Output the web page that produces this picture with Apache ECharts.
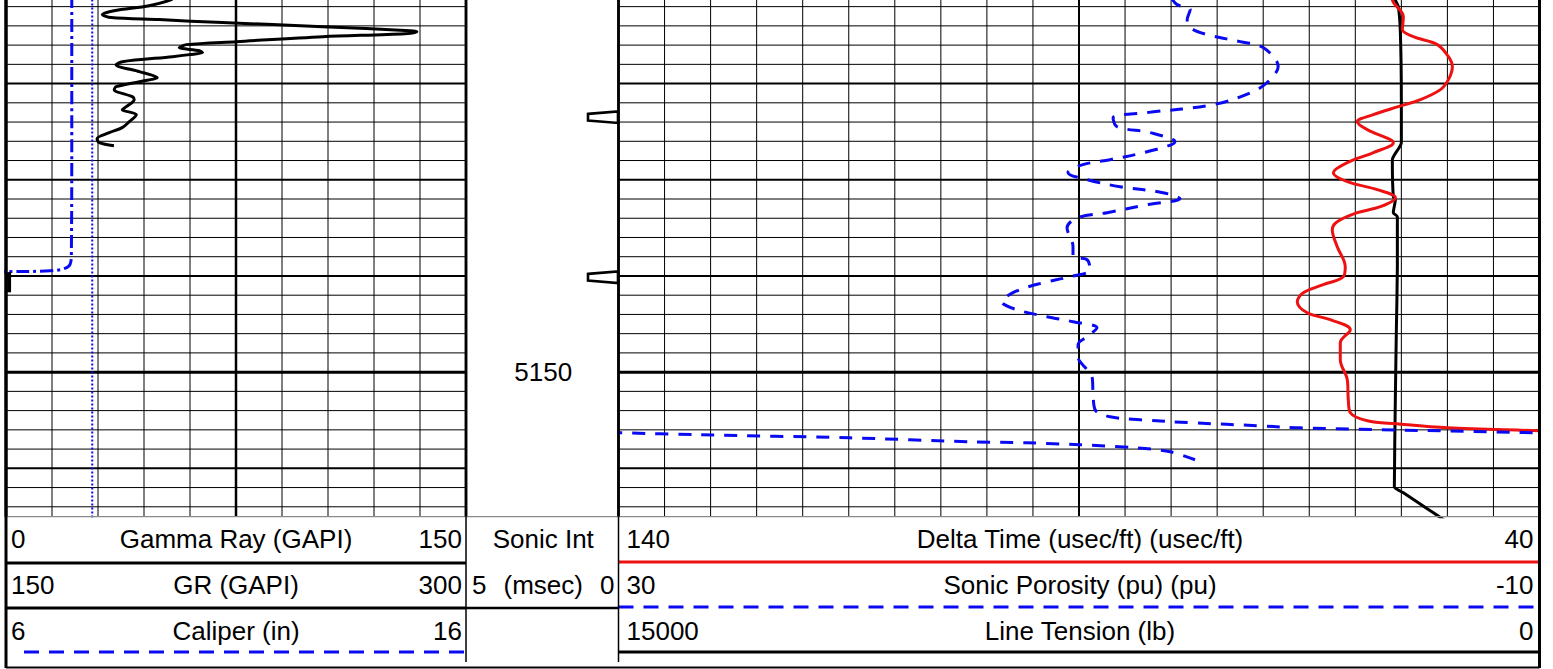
<!DOCTYPE html>
<html>
<head>
<meta charset="utf-8">
<script src="https://cdn.jsdelivr.net/npm/echarts@6/dist/echarts.min.js"></script>
<style>html,body{margin:0;padding:0;background:#fff;overflow:hidden}#c{width:1553px;height:669px}</style>
</head>
<body>
<div id="c"></div>
<script>
// ---------------- DATA ----------------
const DEPTH_TOP = 5111.31, DEPTH_BOTTOM = 5165.03;
const depthGridLines = [5112,5114,5116,5118,5120,5122,5124,5126,5128,5130,5132,5134,5136,5138,5140,5142,5144,5146,5148,5150,5152,5154,5156,5158,5160,5162,5164];
const majorDepthLines = [5120,5130,5140,5150,5160];
const heavyDepthLines = [5150];
const depthLabels = [5150];
const gammaGridValues = [0,15,30,45,60,75,90,105,120,135,150];
const deltaTimeGridValues = [140,135,130,125,120,115,110,105,100,95,90,85,80,75,70,65,60,55,50,45,40];

// [GAPI, depth]
const gammaRay = [[54.3,5110.96],[53.9,5111.27],[46.7,5111.90],[35.2,5112.42],[31.4,5112.83],[34.3,5113.14],[49.9,5113.35],[70.6,5113.66],[103.3,5114.08],[131.7,5114.50],[134.0,5114.60],[130.1,5114.81],[103.3,5115.12],[75.2,5115.64],[58.8,5115.95],[56.5,5116.26],[63.1,5116.58],[64.1,5116.78],[59.8,5116.99],[54.3,5117.20],[37.9,5117.72],[35.9,5118.03],[43.5,5118.76],[49.3,5119.38],[43.5,5119.80],[35.9,5120.32],[35.3,5120.63],[41.2,5121.36],[41.8,5121.67],[39.2,5122.40],[37.9,5122.71],[42.5,5123.23],[40.2,5123.96],[37.9,5124.58],[33.7,5125.10],[29.7,5125.73],[30.4,5126.14],[35.2,5126.46]];
// [GAPI 150-300, depth]
const grBackup = [[151,5139.6],[151,5141.7]];
// [in, depth]
const caliper = [[7.43,5110.8],[7.43,5125.0],[7.42,5138.0],[7.35,5139.04],[6.96,5139.46],[6.0,5139.56],[5.5,5139.6]];
const bitSize = [[7.875,5110.0],[7.875,5166.0]];
// sonic integration pips (depth)
const sonicIntPips = [5123.49,5140.13];
// [usec/ft, depth]
const deltaTime = [[56.0,5110.8],[55.98,5111.27],[54.78,5113.04],[54.89,5114.39],[53.70,5115.12],[51.09,5115.95],[49.89,5117.20],[49.46,5118.24],[49.89,5119.59],[50.76,5120.63],[52.93,5121.67],[55.33,5122.40],[58.04,5123.23],[59.78,5123.96],[58.70,5124.79],[56.20,5125.83],[55.87,5126.14],[58.04,5127.18],[60.87,5128.22],[62.39,5129.26],[60.87,5130.20],[57.61,5131.03],[55.65,5131.86],[57.28,5132.80],[59.78,5133.42],[61.96,5134.36],[62.50,5135.19],[61.96,5136.96],[61.09,5139.04],[61.30,5140.08],[63.48,5140.91],[65.65,5141.75],[66.30,5142.68],[65.22,5143.83],[62.72,5144.55],[60.54,5145.59],[61.63,5146.95],[61.63,5148.71],[60.87,5150.79],[60.76,5152.87],[60.54,5154.22],[58.70,5155.06],[55.54,5155.37],[50.0,5155.79],[40.0,5156.10],[37.5,5156.2]];
// [pu, depth]
const sonicPorosity = [[6.0,5111.06],[5.74,5111.79],[5.17,5112.31],[5.30,5113.35],[5.17,5114.18],[4.43,5114.91],[3.0,5115.64],[2.0,5116.26],[1.35,5118.24],[1.70,5119.59],[2.43,5120.84],[4.17,5122.19],[7.04,5123.02],[8.52,5123.54],[8.35,5124.48],[6.91,5125.10],[5.83,5126.04],[7.04,5127.08],[8.65,5127.91],[9.83,5128.43],[10.48,5129.26],[9.65,5129.99],[8.22,5130.72],[6.35,5131.34],[5.61,5131.97],[7.04,5132.59],[8.78,5133.42],[10.04,5133.94],[10.52,5134.98],[10.26,5136.96],[10.26,5138.00],[9.65,5138.31],[9.52,5139.35],[10.39,5140.08],[11.57,5140.71],[12.78,5141.64],[13.35,5142.68],[12.70,5143.51],[11.39,5144.24],[10.26,5144.76],[9.22,5145.39],[9.65,5146.32],[10.04,5147.15],[10.04,5148.40],[9.65,5149.75],[9.43,5150.48],[9.39,5152.15],[9.30,5153.91],[8.65,5154.64],[7.35,5154.95],[5.04,5155.27],[2.13,5155.58],[0.39,5155.79],[-10.0,5156.31],[-10.8,5156.35]];
// wrapped (backup) part of Sonic Porosity, displayed values
const sonicPorosityWrap = [[30.4,5156.28],[26.48,5156.51],[19.96,5156.83],[14.74,5157.24],[12.26,5157.35],[9.96,5157.55],[7.48,5157.87],[6.04,5158.28],[4.96,5159.11]];
// [lb, depth]
const lineTension = [[2348,5110.8],[2348,5111.27],[2299,5112.0],[2266,5114.70],[2250,5121.67],[2250,5126.14],[2397,5127.91],[2381,5131.76],[2348,5132.07],[2381,5133.42],[2315,5133.84],[2315,5139.04],[2332,5145.91],[2348,5152.87],[2364,5161.92],[2217,5162.55],[1728,5164.63],[1435,5165.87]];

// header texts
const leftHeader = [["0","Gamma Ray (GAPI)","150"],["150","GR (GAPI)","300"],["6","Caliper (in)","16"]];
const midHeader = ["Sonic Int", "5", "(msec)", "0"];
const rightHeader = [["140","Delta Time (usec/ft) (usec/ft)","40"],["30","Sonic Porosity (pu) (pu)","-10"],["15000","Line Tension (lb)","0"]];

// ---------------- LAYOUT ----------------
const L = 6, M1 = 466, M2 = 618.5, R = 1539.5, PT = 0, PB = 516.7, HB = 668;
const ROWS = [539, 585, 631];
const FONT = '26px "Liberation Sans", Arial, sans-serif';
const BLUE = '#0a0af2', RED = '#ee1111';

const chart = echarts.init(document.getElementById('c'), null, {renderer: 'svg', width: 1553, height: 669});

function hLineItem(params, api) {
  const cs = params.coordSys;
  const y = api.coord([api.value(0), api.value(1)])[1];
  return {type: 'line', shape: {x1: cs.x, y1: y, x2: cs.x + cs.width, y2: y},
          style: {stroke: '#000', lineWidth: api.value(2)}};
}
function vLineItem(params, api) {
  const cs = params.coordSys;
  const x = api.coord([api.value(0), api.value(1)])[0];
  return {type: 'line', shape: {x1: x, y1: cs.y, x2: x, y2: cs.y + cs.height},
          style: {stroke: '#000', lineWidth: api.value(2)}};
}
function pipItem(params, api) {
  const cs = params.coordSys;
  const y = api.coord([api.value(0), api.value(1)])[1];
  const r = cs.x + cs.width - 0.5;
  return {type: 'polygon', shape: {points: [[r - 30, y - 3.3], [r, y - 5.8], [r, y + 5.8], [r - 30, y + 3.3]]},
          style: {fill: '#fff', stroke: '#000', lineWidth: 2.6}};
}
function depthLabelItem(params, api) {
  const cs = params.coordSys;
  const y = api.coord([api.value(0), api.value(1)])[1];
  return {type: 'text', style: {text: String(api.value(1)), x: cs.x + cs.width / 2 + 1, y: y,
          font: FONT, fill: '#000', align: 'center', verticalAlign: 'middle', textAlign: 'center', textVerticalAlign: 'middle'}};
}

const hWidth = d => heavyDepthLines.includes(d) ? 3 : (majorDepthLines.includes(d) ? 2 : 1);
const gammaVWidth = v => v === 0 ? 3 : (v === 75 || v === 150 ? 2.5 : 1);
const dtVWidth = v => v === 40 ? 3 : (v === 140 ? 2.5 : (v === 90 ? 2 : 1));

function yAx(i) { return {gridIndex: i, type: 'value', min: DEPTH_TOP, max: DEPTH_BOTTOM, inverse: true, show: false}; }
function xAx(i, min, max, inv) { return {gridIndex: i, type: 'value', min: min, max: max, inverse: !!inv, show: false}; }

function curve(name, xi, yi, data, color, width, dash, smooth) {
  return {name, type: 'line', xAxisIndex: xi, yAxisIndex: yi, data, symbol: 'none', showSymbol: false,
          smooth: smooth === undefined ? 0.35 : smooth, silent: true, z: 5, clip: true,
          lineStyle: {color, width, type: dash || 'solid', cap: 'butt', join: 'round'}};
}

// header graphics
function txt(text, x, y, align) {
  return {type: 'text', silent: true, z: 10, style: {text, x, y, font: FONT, fill: '#000',
          align: align, verticalAlign: 'middle', textAlign: align, textVerticalAlign: 'middle'}};
}
function ln(x1, y1, x2, y2, stroke, w, dash) {
  return {type: 'line', silent: true, z: 10, shape: {x1, y1, x2, y2},
          style: {stroke, lineWidth: w, lineDash: dash || null}};
}
const graphics = [];
graphics.push(ln(L, PB, R, PB, '#8a8a8a', 1.2));
leftHeader.forEach((r, i) => {
  graphics.push(txt(r[0], L + 5, ROWS[i], 'left'));
  graphics.push(txt(r[1], (L + M1) / 2, ROWS[i], 'center'));
  graphics.push(txt(r[2], M1 - 4, ROWS[i], 'right'));
});
graphics.push(ln(L, 563, M1, 563, '#000', 3));
graphics.push(ln(L, 608, M1, 608, '#000', 3));
graphics.push(ln(L + 18, 652, M1, 652, BLUE, 3, [15, 10]));
graphics.push(txt(midHeader[0], (M1 + M2) / 2 + 1, ROWS[0], 'center'));
graphics.push(txt(midHeader[1], M1 + 6, ROWS[1], 'left'));
graphics.push(txt(midHeader[2], (M1 + M2) / 2 + 1, ROWS[1], 'center'));
graphics.push(txt(midHeader[3], M2 - 4, ROWS[1], 'right'));
graphics.push(ln(M1, 608, M2, 608, '#000', 2.5));
rightHeader.forEach((r, i) => {
  graphics.push(txt(r[0], M2 + 8, ROWS[i], 'left'));
  graphics.push(txt(r[1], (M2 + R) / 2 + 1, ROWS[i], 'center'));
  graphics.push(txt(r[2], R - 6, ROWS[i], 'right'));
});
graphics.push(ln(M2, 562, R, 562, RED, 3));
graphics.push(ln(M2, 607, R, 607, BLUE, 3, [15, 10]));
graphics.push(ln(M2, 652, R, 652, '#000', 3));
graphics.push(ln(M1, PB, M1, 662, '#000', 1.5));
graphics.push(ln(M2, PB, M2, 662, '#000', 1.5));
graphics.push(ln(L, PT, L, HB, '#000', 3));
graphics.push(ln(R, PT, R, HB, '#000', 3));
graphics.push(ln(L, HB - 0.5, R, HB - 0.5, '#000', 2));
graphics.push(ln(M1, PT, M1, PB, '#000', 2.5));
graphics.push(ln(M2, PT, M2, PB, '#000', 2.5));

const option = {
  animation: false,
  backgroundColor: '#fff',
  grid: [
    {left: L, top: PT, width: M1 - L, height: PB - PT},
    {left: M1, top: PT, width: M2 - M1, height: PB - PT},
    {left: M2, top: PT, width: R - M2, height: PB - PT}
  ],
  xAxis: [
    xAx(0, 0, 150),          // 0 Gamma Ray
    xAx(0, 150, 300),        // 1 GR
    xAx(0, 6, 16),           // 2 Caliper
    xAx(1, 0, 5, true),      // 3 Sonic Int
    xAx(2, 40, 140, true),   // 4 Delta Time
    xAx(2, -10, 30, true),   // 5 Sonic Porosity
    xAx(2, 0, 15000, true)   // 6 Line Tension
  ],
  yAxis: [yAx(0), yAx(1), yAx(2)],
  series: [
    {type: 'custom', xAxisIndex: 0, yAxisIndex: 0, silent: true, clip: false, z: 1, renderItem: hLineItem,
     encode: {x: 0, y: 1}, data: depthGridLines.map(d => [0, d, hWidth(d)])},
    {type: 'custom', xAxisIndex: 4, yAxisIndex: 2, silent: true, clip: false, z: 1, renderItem: hLineItem,
     encode: {x: 0, y: 1}, data: depthGridLines.map(d => [90, d, hWidth(d)])},
    {type: 'custom', xAxisIndex: 0, yAxisIndex: 0, silent: true, clip: false, z: 2, renderItem: vLineItem,
     encode: {x: 0, y: 1}, data: gammaGridValues.map(v => [v, 5140, gammaVWidth(v)])},
    {type: 'custom', xAxisIndex: 4, yAxisIndex: 2, silent: true, clip: false, z: 2, renderItem: vLineItem,
     encode: {x: 0, y: 1}, data: deltaTimeGridValues.map(v => [v, 5140, dtVWidth(v)])},
    curve('Bit Size', 2, 0, bitSize, BLUE, 2, [2, 2], false),
    curve('Caliper (in)', 2, 0, caliper, BLUE, 3, [13, 4, 3, 4]),
    curve('Gamma Ray (GAPI)', 0, 0, gammaRay, '#000', 3, null, 0.3),
    curve('GR (GAPI)', 1, 0, grBackup, '#000', 4, null, false),
    {type: 'custom', xAxisIndex: 3, yAxisIndex: 1, silent: true, clip: false, z: 6, renderItem: pipItem,
     encode: {x: 0, y: 1}, data: sonicIntPips.map(d => [0, d])},
    {type: 'custom', xAxisIndex: 3, yAxisIndex: 1, silent: true, clip: false, z: 6, renderItem: depthLabelItem,
     encode: {x: 0, y: 1}, data: depthLabels.map(d => [2.5, d])},
    curve('Line Tension (lb)', 6, 2, lineTension, '#000', 3, null, 0.2),
    curve('Delta Time (usec/ft)', 4, 2, deltaTime, RED, 3, null, 0.35),
    curve('Sonic Porosity (pu)', 5, 2, sonicPorosity, BLUE, 3, [13, 10], 0.35),
    curve('Sonic Porosity wrap', 5, 2, sonicPorosityWrap, BLUE, 3, [13, 10], 0.3)
  ],
  graphic: {elements: graphics}
};
chart.setOption(option);
</script>
</body>
</html>
